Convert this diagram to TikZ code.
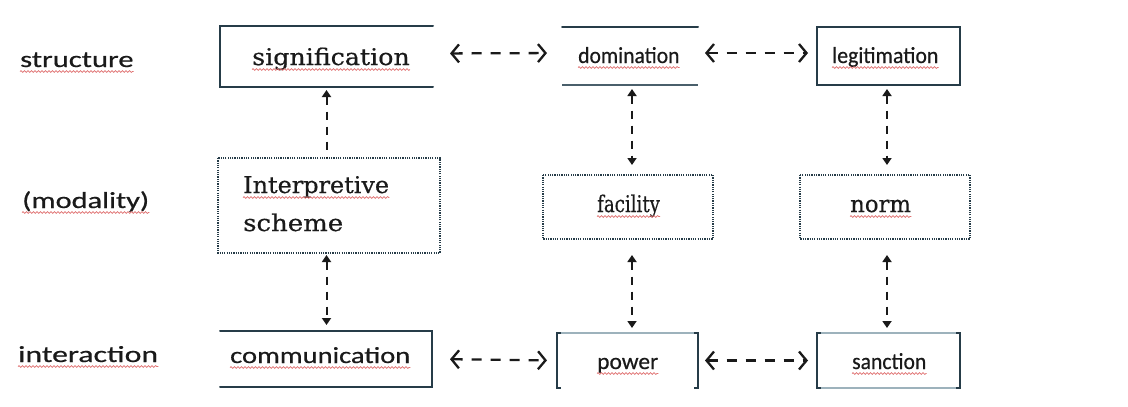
\documentclass[tikz,border=0pt]{standalone}
\usepackage{fontspec}
\usepackage{graphicx}
\newfontfamily\serifword{DejaVu Serif}[UprightFeatures={FakeBold=0.5}]
\newfontfamily\sansword{Carlito}[UprightFeatures={FakeBold=0.5}]
\usetikzlibrary{arrows.meta,decorations.pathmorphing}
\definecolor{frameink}{HTML}{263C48}
\definecolor{faintink}{HTML}{9DB2BC}
\definecolor{textink}{HTML}{1A1A1A}
\definecolor{spellred}{HTML}{E07070}
\begin{document}
\begin{tikzpicture}[x=1pt,y=-1pt,
  frame/.style={draw=none,inner sep=0pt,outer sep=0pt},
  solidside/.style={draw=frameink,line width=2pt,line cap=round},
  faintside/.style={draw=faintink,line width=1.1pt},
  dotside/.style={draw=frameink,line width=1.6pt,dash pattern=on 1.2pt off 1.1pt},
  wordserif/.style={inner sep=0pt,anchor=base west,text=textink,font=\serifword\fontsize{23}{27}\selectfont},
  wordsans/.style={inner sep=0pt,anchor=base west,text=textink,font=\sansword\fontsize{23}{27}\selectfont},
  spellmark/.style={draw=spellred,line width=0.7pt,decorate,decoration={snake,amplitude=0.9pt,segment length=3.5pt}},
  hlink/.style={draw=textink,line width=2.3pt,dash pattern=on 10pt off 9pt,
    {Straight Barb[length=7.5pt,width=18pt,line width=2.3pt]}-{Straight Barb[length=7.5pt,width=18pt,line width=2.3pt]}},
  vlink/.style={draw=textink,line width=2pt,dash pattern=on 8pt off 7pt},
  vtip/.tip={Triangle[length=7pt,width=9pt]}
]
\useasboundingbox[fill=white] (0,0) rectangle (1128,407);

% ---- frames (named shapes, borders drawn side by side) ----
\node[frame,minimum width=213,minimum height=61] (sig)    at (326.5,56.5) {};
\node[frame,minimum width=136,minimum height=58] (dom)    at (630,56) {};
\node[frame,minimum width=143,minimum height=58] (leg)    at (888.5,56) {};
\node[frame,minimum width=222,minimum height=95] (interp) at (329,205.5) {};
\node[frame,minimum width=170,minimum height=64] (fac)    at (628,207) {};
\node[frame,minimum width=170,minimum height=64] (norm)   at (885,207) {};
\node[frame,minimum width=212,minimum height=56] (comm)   at (326,359) {};
\node[frame,minimum width=141,minimum height=55] (pow)    at (627.5,360.5) {};
\node[frame,minimum width=143,minimum height=55] (sanc)   at (888.5,360.5) {};

% structure row
\draw[solidside] (sig.north east) -- (sig.north west) -- (sig.south west) -- (sig.south east);
\draw[solidside] (dom.north west) -- (dom.north east);
\draw[faintside,draw=frameink!70!faintink,line width=1.6pt] (dom.south west) -- (dom.south east);
\draw[solidside,line cap=butt] (leg.north west) rectangle (leg.south east);

% modality row
\draw[dotside] (interp.north west) rectangle (interp.south east);
\draw[dotside] (fac.north west) rectangle (fac.south east);
\draw[dotside] (norm.north west) rectangle (norm.south east);

% interaction row
\draw[solidside] (comm.north west) -- (comm.north east) -- (comm.south east) -- (comm.south west);
\draw[faintside] (pow.north west) -- (pow.north east);
\draw[solidside,line cap=butt] ([xshift=4pt]pow.north west) -- (pow.north west) -- (pow.south west) -- ([xshift=4pt]pow.south west);
\draw[solidside,line cap=butt] ([xshift=-4pt]pow.north east) -- (pow.north east) -- (pow.south east) -- ([xshift=-4pt]pow.south east);
\draw[faintside] (sanc.north west) -- (sanc.north east);
\draw[faintside] (sanc.south west) -- (sanc.south east);
\draw[solidside,line cap=butt] ([xshift=4pt]sanc.north west) -- (sanc.north west) -- (sanc.south west) -- ([xshift=4pt]sanc.south west);
\draw[solidside,line cap=butt] ([xshift=-4pt]sanc.north east) -- (sanc.north east) -- (sanc.south east) -- ([xshift=-4pt]sanc.south east);

% ---- words ----
\node[wordsans] (tstruct) at (20,67)  {\scalebox{1.33}[1]{structure}};
\node[wordsans] (tmod)    at (22,208) {\scalebox{1.32}[1]{(modality)}};
\node[wordsans] (tinter)  at (18,362) {\scalebox{1.38}[1]{interaction}};

\node[wordserif] (tsig)   at (252,65)  {\scalebox{1.10}[1]{signification}};
\node[wordsans]  (tdom)   at (578,63)  {\scalebox{0.94}[1]{domination}};
\node[wordsans]  (tleg)   at (832,63)  {\scalebox{0.95}[1]{legitimation}};
\node[wordserif] (tint)   at (243,193) {\scalebox{1.04}[1]{Interpretive}};
\node[wordserif] (tsch)   at (243,231) {\scalebox{1.13}[1]{scheme}};
\node[wordserif] (tfac)   at (597,212) {\scalebox{0.79}[1]{facility}};
\node[wordserif] (tnorm)  at (850,212) {\scalebox{0.99}[1]{norm}};
\node[wordsans]  (tcomm)  at (230,363) {\scalebox{1.24}[1]{communication}};
\node[wordsans]  (tpow)   at (597,369) {\scalebox{1.02}[1]{power}};
\node[wordsans]  (tsanc)  at (852,369) {\scalebox{0.94}[1]{sanction}};

% spelling marks under the words
\foreach \w in {tstruct,tmod,tinter,tsig,tdom,tleg,tint,tfac,tnorm,tcomm,tpow,tsanc}
  \draw[spellmark] ([yshift=-4.5pt]\w.base west) -- ([yshift=-4.5pt]\w.base east);

% ---- horizontal links ----
\draw[hlink,shorten <=17pt,shorten >=15pt] ([yshift=3pt]sig.east) -- ([yshift=3pt]dom.west);
\draw[hlink,shorten <=7pt,shorten >=9pt]   ([yshift=3pt]dom.east) -- ([yshift=3pt]leg.west);
\draw[hlink,shorten <=18pt,shorten >=10pt] (comm.east) -- (pow.west);
\draw[hlink,shorten <=7pt,shorten >=9pt]   (pow.east) -- (sanc.west);

% ---- vertical links ----
\draw[vlink,vtip-,shorten <=3pt] (sig.south) -- (sig.south |- interp.north);
\draw[vlink,vtip-vtip,shorten <=2pt,shorten >=6pt] (sig.south |- interp.south) -- (sig.south |- comm.north);
\draw[vlink,vtip-vtip,shorten <=4pt,shorten >=10pt] ([xshift=2pt]dom.south) -- ([xshift=2pt]dom.south |- fac.north);
\draw[vlink,vtip-vtip,shorten <=16pt,shorten >=5pt] ([xshift=2pt]dom.south |- fac.south) -- ([xshift=2pt]dom.south |- pow.north);
\draw[vlink,vtip-vtip,shorten <=4pt,shorten >=10pt] ([xshift=-1.5pt]leg.south) -- ([xshift=-1.5pt]leg.south |- norm.north);
\draw[vlink,vtip-vtip,shorten <=16pt,shorten >=5pt] ([xshift=-1.5pt]leg.south |- norm.south) -- ([xshift=-1.5pt]leg.south |- sanc.north);
\end{tikzpicture}
\end{document}
